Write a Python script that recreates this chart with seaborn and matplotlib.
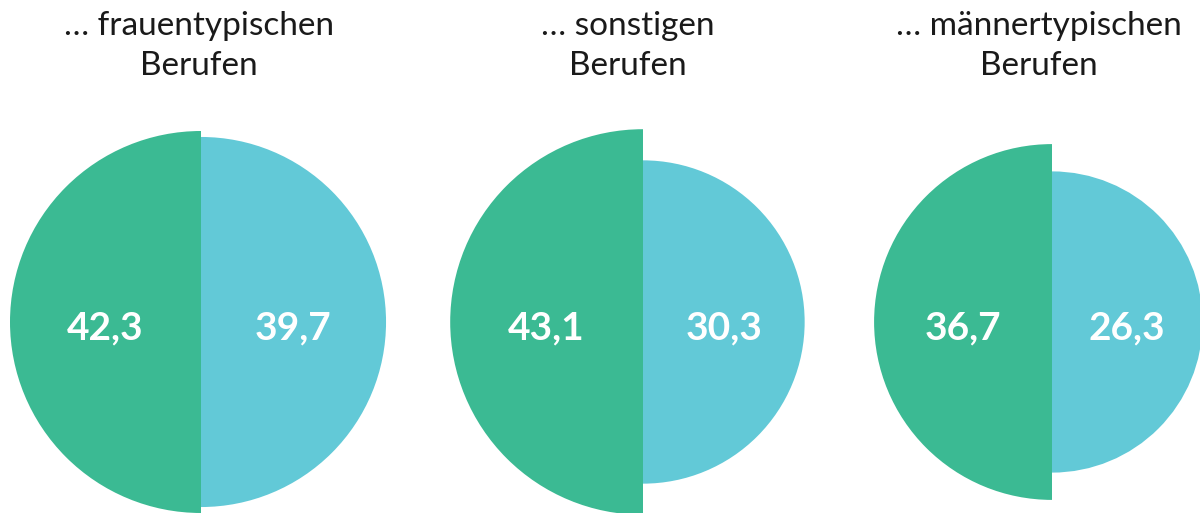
import matplotlib.pyplot as plt
import numpy as np
import seaborn as sns
from matplotlib.patches import Wedge

sns.set_theme(style="white")
plt.rcParams["font.family"] = ["Lato", "DejaVu Sans"]

# -----------------------------
# Data
# -----------------------------
groups = ["… frauentypischen\nBerufen", "… sonstigen\nBerufen", "… männertypischen\nBerufen"]
left_values = [42.3, 43.1, 36.7]
right_values = [39.7, 30.3, 26.3]
left_labels = ["42,3", "43,1", "36,7"]
right_labels = ["39,7", "30,3", "26,3"]

green, blue = "#3bba93", "#62c9d7"

# layout in pixel space
centers_x = [201, 643, 1052]
title_x = [199, 628, 1039]
center_y = 322
scale = 191 / np.sqrt(42.3)  # area proportional to value

fig = plt.figure(figsize=(12, 5.13), dpi=100)
ax = fig.add_axes([0, 0, 1, 1])
ax.set_xlim(0, 1200)
ax.set_ylim(513, 0)
ax.set_aspect("equal")
ax.axis("off")

for i in range(len(groups)):
    cx = centers_x[i]
    rl = scale * np.sqrt(left_values[i])
    rr = scale * np.sqrt(right_values[i])

    ax.add_patch(Wedge((cx, center_y), rl, 90, 270, color=green, lw=0))
    ax.add_patch(Wedge((cx, center_y), rr, -90, 90, color=blue, lw=0))

    ax.text(cx - rl / 2, center_y + 6, left_labels[i], color="white",
            fontsize=28, fontweight="bold", ha="center", va="center")
    ax.text(cx + rr / 2, center_y + 6, right_labels[i], color="white",
            fontsize=28, fontweight="bold", ha="center", va="center")

    ax.text(title_x[i], 46, groups[i], color="#1a1a1a", fontsize=24,
            ha="center", va="center", linespacing=1.45)

plt.savefig("out.png", dpi=100)
